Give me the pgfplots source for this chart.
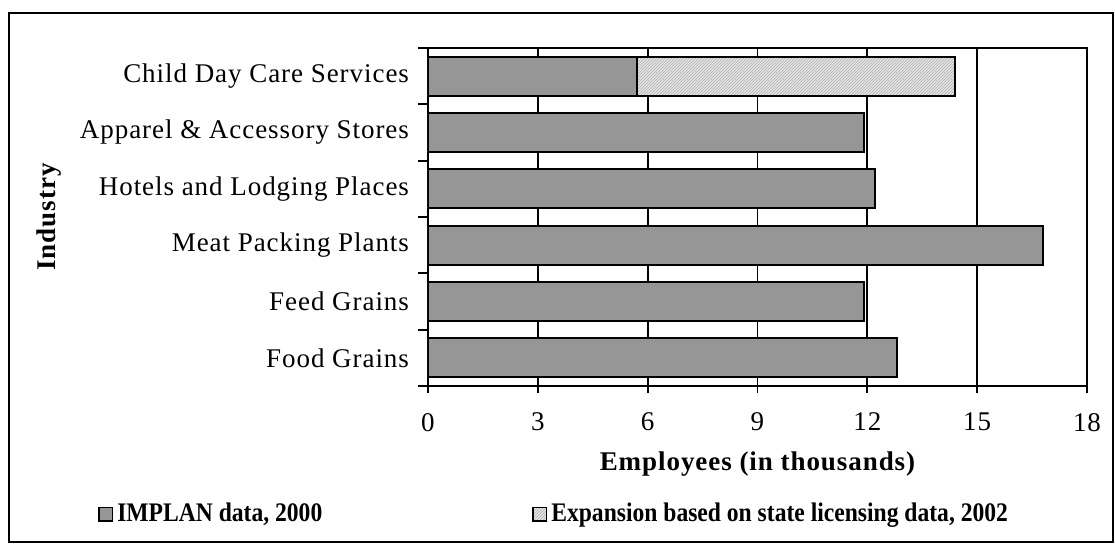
\documentclass[border=0pt]{standalone}
\usepackage{fontspec}
\setmainfont[LetterSpace=3.5]{Liberation Serif}
\newfontfamily\legfont[FakeStretch=0.88]{Liberation Serif}
\usepackage{pgfplots}
\pgfplotsset{compat=1.18}
\usetikzlibrary{patterns.meta}
\definecolor{barg}{RGB}{150,150,150}
\definecolor{hatchbg}{RGB}{228,228,228}
\tikzdeclarepattern{name=finehatch, type=uncolored,
  bounding box={(-0.1pt,-0.1pt) and (1.6pt,1.6pt)}, tile size={(1.5pt,1.5pt)},
  code={\draw[line width=0.3pt] (-0.1pt,-0.1pt) -- (1.6pt,1.6pt);}}

\begin{document}
\begin{tikzpicture}
\begin{axis}[scale only axis, width=329.5pt, height=169pt,
  xbar stacked, bar width=19.5pt,
  xmin=0, xmax=18, xtick={0,3,...,18},
  ymin=-0.5, ymax=5.5, ytick={0,...,5},
  yticklabels={Food Grains, Feed Grains, Meat Packing Plants, Hotels and Lodging Places, Apparel \& Accessory Stores, Child Day Care Services},
  minor ytick={-0.5,0.5,...,5.5},
  axis line style={black, line width=0.9pt},
  tick style={black, line width=0.9pt},
  tick align=outside, xtick pos=bottom, ytick pos=left,
  major tick length=3.5pt,
  major y tick style={draw=none},
  minor tick length=5pt,
  xmajorgrids, major grid style={black, line width=0.9pt},
  /pgf/number format/assume math mode=true,
  tick label style={font=\fontsize{13.5}{15}\selectfont},
  yticklabel style={xshift=-2.5pt},
  xticklabel style={yshift=-6.5pt},
  xlabel={\fontsize{13.5}{15}\selectfont\bfseries Employees (in thousands)},
  ylabel={\fontsize{13.5}{15}\selectfont\bfseries Industry},
  xlabel style={yshift=-3.5pt},
  ylabel style={yshift=2.5pt},
  legend columns=2,
  legend style={draw=none, fill=none, at={(rel axis cs:0.193,-0.379)}, anchor=center,
    font=\legfont\fontsize{13.4}{15}\selectfont\bfseries, /tikz/every even column/.append style={column sep=103pt}},
  legend image code/.code={\draw[#1, line width=0.9pt] (0pt,-3.3pt) rectangle (6.6pt,3.3pt);},
]
\addplot[draw=black, line width=0.9pt, fill=barg] coordinates {(12.8,0) (11.9,1) (16.8,2) (12.2,3) (11.9,4) (5.7,5)};
\addlegendentry{IMPLAN data, 2000}
\addplot[draw=black, line width=0.9pt, fill=hatchbg, postaction={pattern=finehatch, pattern color=black!30}] coordinates {(0,0) (0,1) (0,2) (0,3) (0,4) (8.7,5)};
\addlegendentry{Expansion based on state licensing data, 2002}
\end{axis}
\draw[black, line width=0.8pt] (-209.5pt,-78pt) rectangle (342.5pt,186.5pt);
\pgfresetboundingbox
\path (-214pt,-79pt) rectangle (343.5pt,193pt);
\end{tikzpicture}
\end{document}
